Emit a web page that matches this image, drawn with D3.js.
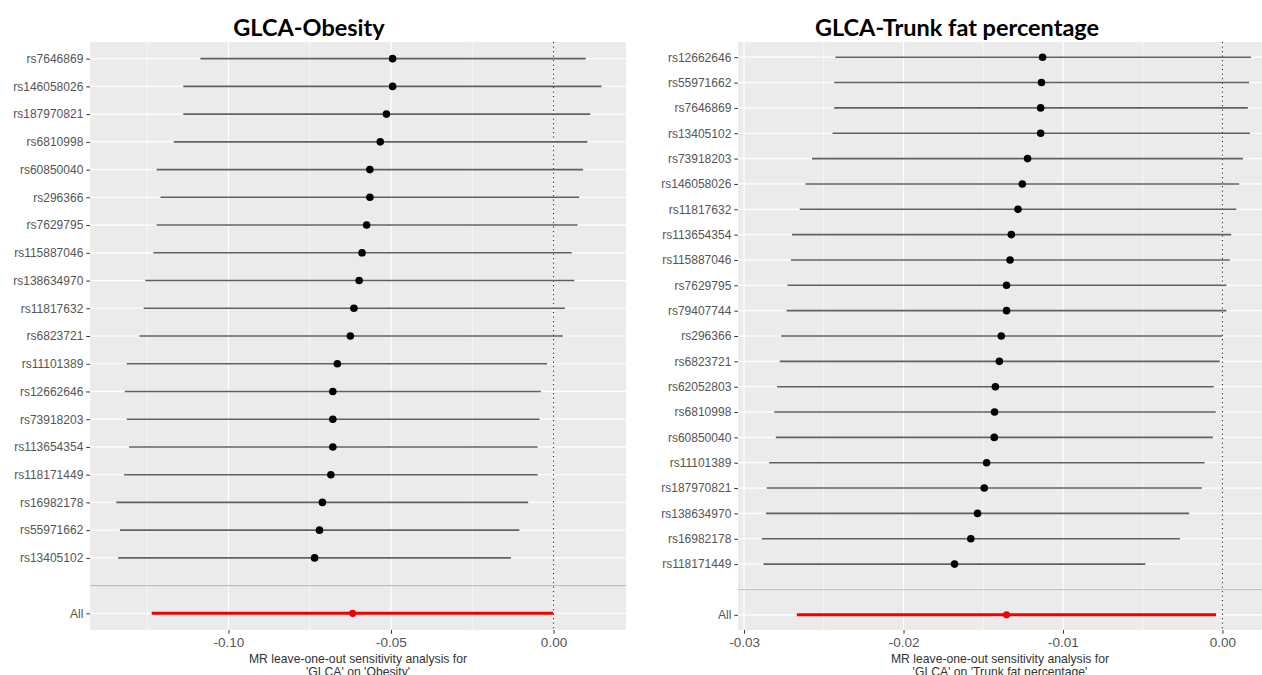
<!DOCTYPE html>
<html>
<head>
<meta charset="utf-8">
<script src="https://cdn.jsdelivr.net/npm/d3@7"></script>
<style>
  body { margin: 0; background: #ffffff; }
  svg { display: block; }
</style>
</head>
<body>
<svg id="chart" width="1262" height="675"></svg>
<script>
// ---- GLCA -> Obesity: leave-one-out estimates (top to bottom) ----
const obesitySnps = ["rs7646869", "rs146058026", "rs187970821", "rs6810998", "rs60850040",
  "rs296366", "rs7629795", "rs115887046", "rs138634970", "rs11817632", "rs6823721",
  "rs11101389", "rs12662646", "rs73918203", "rs113654354", "rs118171449", "rs16982178",
  "rs55971662", "rs13405102"];
const obesityEst = [-0.0495, -0.0495, -0.0514, -0.0533, -0.0565, -0.0565, -0.0575, -0.0589,
  -0.0598, -0.0614, -0.0625, -0.0665, -0.0679, -0.0679, -0.0679, -0.0685, -0.0711, -0.0720, -0.0735];
const obesityLo = [-0.1086, -0.1139, -0.1139, -0.1168, -0.1221, -0.1209, -0.1221, -0.1231,
  -0.1256, -0.1261, -0.1274, -0.1313, -0.1319, -0.1313, -0.1306, -0.1321, -0.1345, -0.1334, -0.1339];
const obesityHi = [0.0099, 0.0148, 0.0113, 0.0104, 0.0091, 0.0079, 0.0074, 0.0056,
  0.0064, 0.0035, 0.0029, -0.0020, -0.0039, -0.0043, -0.0049, -0.0049, -0.0078, -0.0105, -0.0131];
const obesityAll = [-0.0618, -0.1236, -0.0001];   // estimate, lower, upper
const obesityTicks = [-0.10, -0.05, 0.00];
const obesityTickLabels = ["-0.10", "-0.05", "0.00"];
const obesityMinor = [-0.125, -0.075, -0.025];

// ---- GLCA -> Trunk fat percentage ----
const trunkSnps = ["rs12662646", "rs55971662", "rs7646869", "rs13405102", "rs73918203",
  "rs146058026", "rs11817632", "rs113654354", "rs115887046", "rs7629795", "rs79407744",
  "rs296366", "rs6823721", "rs62052803", "rs6810998", "rs60850040", "rs11101389",
  "rs187970821", "rs138634970", "rs16982178", "rs118171449"];
const trunkEst = [-0.01128, -0.01135, -0.01140, -0.01140, -0.01222, -0.01255, -0.01282,
  -0.01324, -0.01332, -0.01354, -0.01354, -0.01387, -0.01399, -0.01424, -0.01429, -0.01431,
  -0.01479, -0.01494, -0.01536, -0.01578, -0.01680];
const trunkLo = [-0.02427, -0.02435, -0.02435, -0.02445, -0.02574, -0.02614, -0.02651,
  -0.02699, -0.02706, -0.02728, -0.02733, -0.02768, -0.02776, -0.02793, -0.02811, -0.02801,
  -0.02843, -0.02858, -0.02863, -0.02888, -0.02878];
const trunkHi = [0.00179, 0.00167, 0.00159, 0.00172, 0.00129, 0.00105, 0.00087,
  0.00055, 0.00047, 0.00025, 0.00025, -0.00002, -0.00017, -0.00055, -0.00042, -0.00060,
  -0.00112, -0.00129, -0.00209, -0.00266, -0.00483];
const trunkAll = [-0.01354, -0.02669, -0.00040];
const trunkTicks = [-0.03, -0.02, -0.01, 0.00];
const trunkTickLabels = ["-0.03", "-0.02", "-0.01", "0.00"];
const trunkMinor = [-0.025, -0.015, -0.005];

const svg = d3.select("#chart");
const PANEL_TOP = 42, PANEL_BOTTOM = 630;

function drawPanel(cfg) {
  const g = svg.append("g");
  const rows = cfg.snps.map((s, i) => ({ snp: s, est: cfg.est[i], lo: cfg.lo[i], hi: cfg.hi[i] }));
  const levels = cfg.snps.concat(["", "All"]);

  const x = d3.scaleLinear().domain(cfg.domain).range([cfg.left, cfg.right]);
  const y = d3.scalePoint().domain(levels).range([PANEL_TOP, PANEL_BOTTOM]).padding(0.6);

  // panel background
  g.append("rect")
    .attr("x", cfg.left).attr("y", PANEL_TOP)
    .attr("width", cfg.right - cfg.left).attr("height", PANEL_BOTTOM - PANEL_TOP)
    .attr("fill", "#EBEBEB");

  // minor vertical grid
  g.selectAll(".minor").data(cfg.minor).join("line")
    .attr("x1", d => x(d)).attr("x2", d => x(d))
    .attr("y1", PANEL_TOP).attr("y2", PANEL_BOTTOM)
    .attr("stroke", "#ffffff").attr("stroke-width", 0.6);

  // major vertical grid
  g.selectAll(".vmajor").data(cfg.ticks).join("line")
    .attr("x1", d => x(d)).attr("x2", d => x(d))
    .attr("y1", PANEL_TOP).attr("y2", PANEL_BOTTOM)
    .attr("stroke", "#ffffff").attr("stroke-width", 1.2);

  // major horizontal grid at each row
  g.selectAll(".hmajor").data(levels).join("line")
    .attr("x1", cfg.left).attr("x2", cfg.right)
    .attr("y1", d => y(d)).attr("y2", d => y(d))
    .attr("stroke", "#ffffff").attr("stroke-width", 1.2);

  // separator between single-SNP rows and the overall estimate
  g.append("line")
    .attr("x1", cfg.left).attr("x2", cfg.right)
    .attr("y1", y("")).attr("y2", y(""))
    .attr("stroke", "#BEBEBE").attr("stroke-width", 1.1);

  // null-effect reference
  g.append("line")
    .attr("x1", x(0)).attr("x2", x(0))
    .attr("y1", PANEL_TOP).attr("y2", PANEL_BOTTOM)
    .attr("stroke", "#333333").attr("stroke-width", 1.1)
    .attr("stroke-dasharray", "1.2,3.3");

  // confidence intervals
  g.selectAll(".ci").data(rows).join("line")
    .attr("x1", d => x(d.lo)).attr("x2", d => x(d.hi))
    .attr("y1", d => y(d.snp)).attr("y2", d => y(d.snp))
    .attr("stroke", "#606060").attr("stroke-width", 1.6);

  g.selectAll(".pt").data(rows).join("circle")
    .attr("cx", d => x(d.est)).attr("cy", d => y(d.snp))
    .attr("r", 3.8).attr("fill", "#000000");

  // overall estimate
  g.append("line")
    .attr("x1", x(cfg.all[1])).attr("x2", x(cfg.all[2]))
    .attr("y1", y("All")).attr("y2", y("All"))
    .attr("stroke", "#F00000").attr("stroke-width", 3);
  g.append("circle")
    .attr("cx", x(cfg.all[0])).attr("cy", y("All"))
    .attr("r", 3.6).attr("fill", "#F00000");

  // y axis
  const yAxis = g.append("g")
    .attr("transform", `translate(${cfg.left},0)`)
    .call(d3.axisLeft(y).tickSize(3.7).tickPadding(3));
  yAxis.select(".domain").remove();
  yAxis.selectAll(".tick").filter(d => d === "").remove();
  yAxis.selectAll(".tick line").attr("stroke", "#333333").attr("stroke-width", 1);
  yAxis.selectAll(".tick text")
    .attr("fill", "#555555").attr("font-family", "Liberation Sans, Arial, sans-serif")
    .attr("font-size", 12);

  // x axis
  const xAxis = g.append("g")
    .attr("transform", `translate(0,${PANEL_BOTTOM})`)
    .call(d3.axisBottom(x).tickValues(cfg.ticks)
      .tickFormat((d, i) => cfg.tickLabels[i]).tickSize(3.7).tickPadding(4));
  xAxis.select(".domain").remove();
  xAxis.selectAll(".tick line").attr("stroke", "#333333").attr("stroke-width", 1);
  xAxis.selectAll(".tick text")
    .attr("fill", "#555555").attr("font-family", "Liberation Sans, Arial, sans-serif")
    .attr("font-size", 13.5);

  // axis title (two lines)
  const cx = (cfg.left + cfg.right) / 2;
  const xt = g.append("text")
    .attr("x", cx).attr("y", 663)
    .attr("text-anchor", "middle")
    .attr("font-family", "Liberation Sans, Arial, sans-serif")
    .attr("font-size", 12.2).attr("fill", "#333333");
  xt.append("tspan").attr("x", cx).text("MR leave-one-out sensitivity analysis for");
  xt.append("tspan").attr("x", cx).attr("dy", 12.5).text(cfg.xTitle2);

  // panel title
  svg.append("text")
    .attr("x", cfg.titleX).attr("y", 36)
    .attr("text-anchor", "middle")
    .attr("font-family", "Lato, 'Open Sans', sans-serif")
    .attr("font-weight", 700).attr("font-size", 23.5)
    .attr("fill", "#000000")
    .text(cfg.title);
}

drawPanel({
  snps: obesitySnps, est: obesityEst, lo: obesityLo, hi: obesityHi, all: obesityAll,
  ticks: obesityTicks, tickLabels: obesityTickLabels, minor: obesityMinor,
  domain: [-0.1426, 0.0223], left: 90, right: 626,
  title: "GLCA-Obesity", titleX: 309, xTitle2: "'GLCA' on 'Obesity'"
});

drawPanel({
  snps: trunkSnps, est: trunkEst, lo: trunkLo, hi: trunkHi, all: trunkAll,
  ticks: trunkTicks, tickLabels: trunkTickLabels, minor: trunkMinor,
  domain: [-0.03038, 0.00248], left: 738, right: 1262,
  title: "GLCA-Trunk fat percentage", titleX: 957, xTitle2: "'GLCA' on 'Trunk fat percentage'"
});
</script>
</body>
</html>
